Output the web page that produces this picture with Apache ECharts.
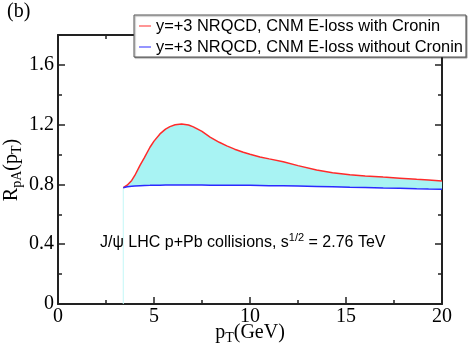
<!DOCTYPE html>
<html>
<head>
<meta charset="utf-8">
<script src="https://cdn.jsdelivr.net/npm/echarts@6/dist/echarts.min.js"></script>
<style>html,body{margin:0;padding:0;background:#fff}#c{width:468px;height:351px}</style>
</head>
<body>
<div id="c"></div>
<script>
// ---- data ----
var pT = [3.4, 3.6, 3.84, 4.0, 4.27, 4.5, 4.79, 5.0, 5.31, 5.6, 5.83, 6.1, 6.44, 6.8, 7.05, 7.5, 7.92, 8.4, 8.79, 9.2, 9.65, 10.0, 10.52, 11.0, 11.73, 12.5, 13.47, 14.3, 15.2, 16.0, 16.94, 17.8, 18.68, 19.3, 20.0];
var withCronin = [0.778, 0.795, 0.827, 0.86, 0.927, 0.98, 1.049, 1.09, 1.138, 1.17, 1.187, 1.199, 1.205, 1.198, 1.185, 1.155, 1.117, 1.082, 1.058, 1.036, 1.015, 1.002, 0.984, 0.971, 0.952, 0.926, 0.896, 0.879, 0.865, 0.857, 0.849, 0.842, 0.834, 0.829, 0.823];
var withoutCronin = [0.778, 0.784, 0.788, 0.790, 0.792, 0.793, 0.794, 0.795, 0.795, 0.796, 0.796, 0.796, 0.796, 0.796, 0.796, 0.796, 0.795, 0.795, 0.795, 0.794, 0.794, 0.794, 0.793, 0.792, 0.791, 0.789, 0.787, 0.785, 0.782, 0.780, 0.777, 0.775, 0.772, 0.770, 0.768];
var seriesNames = ['y=+3 NRQCD, CNM E-loss with Cronin', 'y=+3 NRQCD, CNM E-loss without Cronin'];
var xTicks = [0, 5, 10, 15, 20];
var yTicks = [0, 0.4, 0.8, 1.2, 1.6];

function pairs(xs, ys) { return xs.map(function (x, i) { return [x, ys[i]]; }); }

var chart = echarts.init(document.getElementById('c'), null, {renderer: 'canvas'});
var axisCol = '#222';
var serif = 'Liberation Serif';
var sans = 'Liberation Sans';

function xAx(pos, labels) {
  return {
    type: 'value', min: 0, max: 20, interval: 5, position: pos,
    axisLine: {show: true, onZero: false, lineStyle: {color: axisCol, width: 2}},
    axisTick: {show: true, inside: true, length: 7, lineStyle: {color: axisCol, width: 1.5}},
    minorTick: {show: true, splitNumber: 2, length: 4, lineStyle: {color: axisCol, width: 1.5}},
    axisLabel: {show: labels, margin: 3, fontFamily: serif, fontSize: 20, color: '#000'},
    splitLine: {show: false}
  };
}
function yAx(pos, labels, interval, len, line) {
  return {
    type: 'value', min: 0, max: 1.8, interval: interval, position: pos,
    axisLine: {show: line, onZero: false, lineStyle: {color: axisCol, width: 2}},
    axisTick: {show: true, inside: true, length: len, lineStyle: {color: axisCol, width: 1.5}},
    axisLabel: {show: labels, margin: 4, fontFamily: serif, fontSize: 20, color: '#000',
      showMaxLabel: false,
      formatter: function (v) { return v === 0 ? '0' : v.toFixed(1); }},
    splitLine: {show: false}
  };
}

function renderBand(params, api) {
  if (params.dataIndex !== 0) return null;
  var pts = [];
  for (var i = 0; i < pT.length; i++) pts.push(api.coord([pT[i], withCronin[i]]));
  for (var j = pT.length - 1; j >= 0; j--) pts.push(api.coord([pT[j], withoutCronin[j]]));
  return {type: 'polygon', shape: {points: pts}, style: {fill: '#a8f3f3', stroke: null}};
}

var option = {
  animation: false,
  backgroundColor: '#fff',
  grid: {left: 58, right: 26, top: 35, bottom: 47, containLabel: false},
  xAxis: [xAx('bottom', true), xAx('top', false)],
  yAxis: [yAx('left', true, 0.4, 7, true), yAx('right', false, 0.4, 7, true),
          yAx('left', false, 0.2, 4, false), yAx('right', false, 0.2, 4, false)],
  legend: {
    left: 134, top: 15, orient: 'vertical', selectedMode: false,
    data: seriesNames, icon: 'rect', itemWidth: 12, itemHeight: 1, itemGap: 1, itemTextGap: 11,
    padding: [1, 3, 0, 5], borderColor: '#555', borderWidth: 1, backgroundColor: '#fff',
    shadowColor: 'rgba(0,0,0,0.35)', shadowOffsetX: 1, shadowOffsetY: 1, shadowBlur: 1,
    textStyle: {fontFamily: sans, fontSize: 16.4, color: '#000', lineHeight: 20}
  },
  series: [
    {name: 'band', type: 'custom', renderItem: renderBand, data: pairs(pT, withCronin),
     encode: {x: 0, y: 1}, silent: true, z: 1, clip: true},
    {name: 'edge', type: 'line', data: [[pT[0], 0], [pT[0], withoutCronin[0]]], symbol: 'none',
     lineStyle: {color: '#c4f7f7', width: 1}, silent: true, z: 1},
    {name: seriesNames[0], type: 'line', data: pairs(pT, withCronin), smooth: false, symbol: 'none',
     itemStyle: {color: '#ff2a2a'}, lineStyle: {color: '#ff2a2a', width: 1.5}, z: 3},
    {name: seriesNames[1], type: 'line', data: pairs(pT, withoutCronin), smooth: false, symbol: 'none',
     itemStyle: {color: '#2a2aff'}, lineStyle: {color: '#2a2aff', width: 1.5}, z: 3}
  ],
  graphic: [
    {type: 'text', left: 7, top: 2, style: {text: '(b)', font: '20px "Liberation Serif"', fill: '#000'}},
    {type: 'text', x: 250, y: 333, style: {
      text: '{m|p}{s|T}{m|(GeV)}', align: 'center', verticalAlign: 'middle',
      rich: {m: {fontFamily: serif, fontSize: 20, lineHeight: 24, fill: '#000'},
             s: {fontFamily: serif, fontSize: 14, lineHeight: 14, verticalAlign: 'bottom', fill: '#000'}}}},
    {type: 'text', x: 12, y: 170, rotation: Math.PI / 2, style: {
      text: '{m|R}{s|pA}{m|(p}{s|T}{m|)}', align: 'center', verticalAlign: 'middle',
      rich: {m: {fontFamily: serif, fontSize: 20, lineHeight: 24, fill: '#000'},
             s: {fontFamily: serif, fontSize: 14, lineHeight: 14, verticalAlign: 'bottom', fill: '#000'}}}},
    {type: 'text', x: 100, y: 243, z: 10, style: {
      text: '{m|J/ψ LHC p+Pb collisions, s}{u|1/2}{m| = 2.76 TeV}', align: 'left', verticalAlign: 'middle',
      rich: {m: {fontFamily: sans, fontSize: 16, lineHeight: 22, fill: '#000'},
             u: {fontFamily: sans, fontSize: 11, lineHeight: 11, verticalAlign: 'top', fill: '#000'}}}}
  ]
};
chart.setOption(option);
</script>
</body>
</html>
